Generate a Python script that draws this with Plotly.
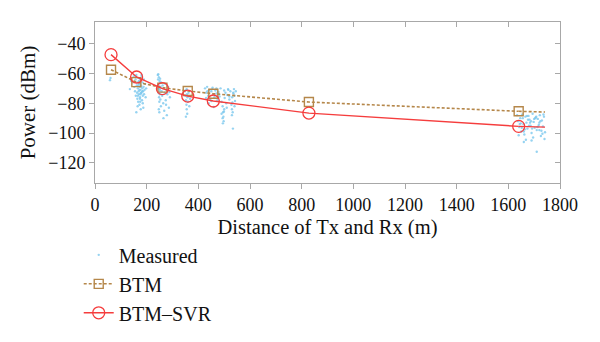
import plotly.graph_objects as go

# ---------------- data ----------------
# Model markers (distance m, power dBm)
btm_x = [62, 160, 261, 359, 458, 828, 1640]
btm_y = [-57.5, -65.8, -69.5, -71.8, -73.6, -79.2, -85.4]
btm_end_x = [1640, 1742]
btm_end_y = [-85.4, -85.9]

svr_x = [62, 161, 261, 359, 458, 828, 1640]
svr_y = [-47.4, -62.4, -70.2, -75.2, -78.5, -86.6, -95.5]
svr_end_x = [1640, 1742]
svr_end_y = [-95.5, -96.0]

# Measured samples, cluster by cluster
meas_x0 = [58, 60]
meas_y0 = [-64.5, -63.0]

meas_x1 = [135, 140, 146, 150, 152, 155, 157, 158, 160, 162, 163, 164, 165, 166, 167, 168,
           169, 170, 171, 172, 173, 174, 175, 176, 177, 178, 180, 181, 182, 183, 184, 185,
           186, 187, 188, 189, 190, 192, 194, 196, 198, 170, 165, 175, 180, 160, 185, 178,
           168, 172, 174, 176, 179, 183, 166]
meas_y1 = [-70.5, -65.0, -66.0, -62.0, -69.0, -72.0, -64.0, -75.0, -61.0, -68.0, -73.0,
           -77.0, -66.0, -70.0, -79.0, -63.0, -72.0, -74.0, -67.0, -81.0, -69.0, -76.0,
           -64.0, -71.0, -84.0, -68.0, -73.0, -62.0, -78.0, -70.0, -66.0, -75.0, -72.0,
           -83.0, -69.0, -64.0, -74.0, -71.0, -67.0, -76.0, -70.0, -65.0, -82.0, -79.0,
           -61.0, -86.0, -80.0, -73.0, -68.0, -71.0, -77.0, -74.0, -69.0, -72.0, -75.0]

meas_x2 = [243, 244, 245, 246, 246, 247, 248, 248, 249, 250, 250, 251, 252, 253, 254, 255,
           256, 258, 260, 262, 264, 266, 268, 270, 272, 274, 276, 278, 280, 283, 286, 290,
           247, 249, 251, 245, 252, 265, 275, 288]
meas_y2 = [-61.0, -64.0, -67.0, -70.0, -73.0, -62.5, -76.0, -68.5, -79.0, -65.0, -71.5,
           -74.0, -63.5, -77.5, -69.0, -82.0, -66.0, -72.0, -75.0, -68.0, -80.0, -70.0,
           -85.0, -73.0, -67.0, -78.0, -71.0, -88.0, -74.0, -69.0, -83.0, -76.0, -84.0,
           -86.0, -70.5, -60.5, -66.5, -90.0, -81.0, -72.5]

meas_x3 = [348, 350, 352, 353, 354, 355, 356, 357, 358, 360, 362, 365, 368, 352, 355]
meas_y3 = [-72.0, -75.0, -78.0, -71.0, -81.0, -84.0, -74.0, -87.0, -76.0, -79.0, -73.0,
           -82.0, -77.0, -89.0, -70.5]

meas_x4 = [426, 430, 434, 438, 442, 446, 450, 454, 458, 462, 466, 470, 474, 478, 482, 486,
           490, 494, 496, 497, 498, 500, 502, 505, 508, 512, 516, 520, 524, 528, 530, 531,
           532, 534, 536, 538, 540, 542, 545, 430, 440, 450, 460, 470, 480, 490, 500, 510,
           520, 530, 540, 435, 455, 475, 495, 515, 535, 494, 499, 533]
meas_y4 = [-70.0, -73.0, -69.0, -75.0, -71.0, -77.0, -72.0, -70.5, -74.0, -76.0, -71.5,
           -73.5, -78.0, -72.5, -75.5, -70.0, -79.0, -82.0, -86.0, -89.0, -92.0, -84.0,
           -76.5, -73.0, -80.0, -74.5, -71.0, -77.5, -72.0, -81.0, -84.0, -76.0, -79.5,
           -97.0, -73.5, -70.5, -75.0, -78.5, -72.0, -76.5, -80.0, -78.5, -82.5, -70.0,
           -74.0, -87.0, -71.5, -83.0, -75.5, -88.0, -82.0, -72.0, -69.5, -76.0, -93.5,
           -70.5, -73.0, -90.0, -85.5, -86.0]

meas_x5 = [1634, 1638, 1642, 1646, 1650, 1654, 1658, 1662, 1666, 1670, 1674, 1678, 1682,
           1686, 1690, 1694, 1698, 1702, 1706, 1710, 1714, 1718, 1722, 1726, 1730, 1734,
           1738, 1742, 1640, 1648, 1656, 1664, 1672, 1680, 1688, 1696, 1704, 1712, 1720,
           1728, 1736, 1644, 1660, 1676, 1692, 1708, 1724, 1740, 1652, 1668, 1684, 1700,
           1716, 1732, 1710, 1690, 1660, 1720]
meas_y5 = [-88.0, -92.0, -96.0, -90.0, -99.0, -87.5, -94.0, -101.0, -89.0, -93.0, -97.0,
           -88.5, -91.0, -95.0, -100.0, -87.0, -92.5, -96.5, -89.5, -98.0, -90.5, -94.5,
           -88.0, -102.0, -91.5, -95.5, -89.0, -99.5, -101.5, -93.5, -90.0, -97.5, -88.5,
           -95.0, -92.0, -103.0, -90.0, -96.0, -93.0, -98.5, -87.5, -94.0, -99.0, -91.0,
           -97.0, -89.0, -92.0, -104.0, -96.5, -104.5, -93.0, -90.5, -95.5, -100.5, -112.5,
           -105.0, -106.0, -98.0]

x_ticks = [0, 200, 400, 600, 800, 1000, 1200, 1400, 1600, 1800]
y_ticks = [-40, -60, -80, -100, -120]

# ---------------- figure ----------------
meas_x = meas_x0 + meas_x1 + meas_x2 + meas_x3 + meas_x4 + meas_x5
meas_y = meas_y0 + meas_y1 + meas_y2 + meas_y3 + meas_y4 + meas_y5

BLUE = "#7cc8ee"
BROWN = "#b5874a"
RED = "#f53d3d"
FONT = "Liberation Serif"

fig = go.Figure()
fig.add_trace(go.Scatter(x=meas_x, y=meas_y, mode="markers", name="Measured",
                         marker=dict(color=BLUE, size=2.4, opacity=0.8)))
fig.add_trace(go.Scatter(x=btm_x, y=btm_y, mode="lines+markers", name="BTM",
                         line=dict(color=BROWN, width=1.6, dash="3px,2px"),
                         marker=dict(symbol="square-open", size=9, color=BROWN,
                                     line=dict(width=1.4, color=BROWN))))
fig.add_trace(go.Scatter(x=btm_end_x, y=btm_end_y, mode="lines", showlegend=False,
                         line=dict(color=BROWN, width=1.6, dash="3px,2px")))
fig.add_trace(go.Scatter(x=svr_x, y=svr_y, mode="lines+markers", name="BTM\u2013SVR",
                         line=dict(color=RED, width=1.4),
                         marker=dict(symbol="circle-open", size=12, color=RED,
                                     line=dict(width=1.3, color=RED))))
fig.add_trace(go.Scatter(x=svr_end_x, y=svr_end_y, mode="lines", showlegend=False,
                         line=dict(color=RED, width=1.4)))

AX_COL = "#a8a8a8"
XR = [0, 1800]
YR = [-133.5, -25.5]

fig.update_layout(
    width=600, height=342,
    margin=dict(l=95, r=40, t=22, b=159, autoexpand=False),
    paper_bgcolor="white", plot_bgcolor="white",
    font=dict(family=FONT, color="#111111", size=18),
    xaxis=dict(range=XR, tickvals=x_ticks, ticks="outside", ticklen=5, tickcolor=AX_COL,
               showline=True, linecolor=AX_COL, linewidth=1, showgrid=False, zeroline=False,
               tickfont=dict(size=18, family=FONT), automargin=False,
               title=dict(text="Distance of Tx and Rx (m)", font=dict(size=20.5, family=FONT),
                          standoff=6)),
    yaxis=dict(range=YR, tickvals=y_ticks, ticks="outside", ticklen=5, tickcolor=AX_COL,
               showline=True, linecolor=AX_COL, linewidth=1, showgrid=False, zeroline=False,
               tickfont=dict(size=18, family=FONT), automargin=False,
               title=dict(text="Power (dBm)", font=dict(size=21, family=FONT), standoff=6)),
    xaxis2=dict(range=XR, tickvals=x_ticks, overlaying="x", side="top", ticks="inside",
                ticklen=5, tickcolor=AX_COL, showticklabels=False, showline=True,
                linecolor=AX_COL, showgrid=False, zeroline=False),
    yaxis2=dict(range=YR, tickvals=y_ticks, overlaying="y", side="right", ticks="inside",
                ticklen=5, tickcolor=AX_COL, showticklabels=False, showline=True,
                linecolor=AX_COL, showgrid=False, zeroline=False),
    legend=dict(x=-0.035, y=-0.325, xanchor="left", yanchor="top", bgcolor="rgba(0,0,0,0)",
                font=dict(size=20, family=FONT), itemwidth=30, tracegroupgap=0),
    showlegend=True,
)
# invisible helper so the mirrored axes are drawn
fig.add_trace(go.Scatter(x=[None], y=[None], xaxis="x2", yaxis="y2", showlegend=False,
                         hoverinfo="skip"))

fig.write_html("out.html")
